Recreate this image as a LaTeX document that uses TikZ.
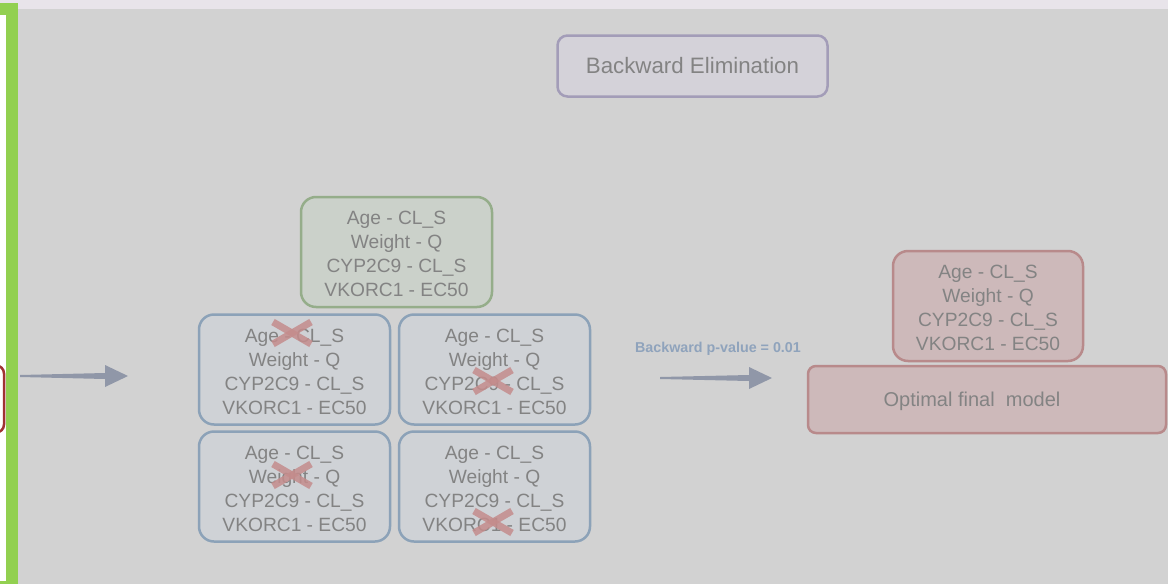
\documentclass[tikz,border=0pt]{standalone}
\usepackage{fontspec}
\setmainfont{Liberation Sans}
\usetikzlibrary{calc}
\definecolor{bgc}{HTML}{D2D2D2}
\definecolor{topc}{HTML}{E8E4EA}
\definecolor{greenbar}{HTML}{92D050}
\definecolor{txtc}{HTML}{838383}
\definecolor{lblc}{HTML}{8FA3BC}
\definecolor{arrc}{HTML}{9097A8}
\definecolor{titfill}{HTML}{D4D2D9}
\definecolor{titdraw}{HTML}{A39DB8}
\definecolor{gfill}{HTML}{CBD1CA}
\definecolor{gdraw}{HTML}{95AD8A}
\definecolor{bfill}{HTML}{CFD2D6}
\definecolor{bdraw}{HTML}{8CA2B8}
\definecolor{rfill}{HTML}{CDB9BA}
\definecolor{rdraw}{HTML}{B88A8B}
\definecolor{xc}{HTML}{C48C8C}
\definecolor{darkred}{HTML}{A03232}
\newcommand{\covlines}{\rule{0pt}{17.5pt}Age - CL\_S\\Weight - Q\\CYP2C9 - CL\_S\\VKORC1 - EC50}
\tikzset{
  covbox/.style={rounded corners=15pt, line width=2.5pt, minimum width=191pt, minimum height=110pt,
    inner sep=0pt, align=center, text=txtc, font=\fontsize{19.2}{24}\selectfont},
  greenbox/.style={covbox, fill=gfill, draw=gdraw},
  bluebox/.style={covbox, fill=bfill, draw=bdraw},
  redbox/.style={covbox, fill=rfill, draw=rdraw},
  xmark/.style={draw=xc, line width=7pt, opacity=0.85},
  arrowfill/.style={fill=arrc},
}
\begin{document}
\begin{tikzpicture}[x=1pt,y=-1pt]
\useasboundingbox (0,0) rectangle (1168,584);
% backgrounds
\fill[bgc] (0,0) rectangle (1168,584);
\fill[topc] (0,0) rectangle (1168,9);
\fill[greenbar] (-10,3) rectangle (18,594);
\fill[white] (-10,15) rectangle (6,581);
% partial red box at left edge
\node[draw=darkred, line width=2.5pt, fill=white, rounded corners=8pt, minimum width=60pt, minimum height=67pt, inner sep=0pt] (prev) at (-26,399) {};
% title
\node[draw=titdraw, fill=titfill, line width=2.5pt, rounded corners=10pt, minimum width=270pt, minimum height=61pt, inner sep=0pt, text=txtc, font=\fontsize{22.3}{24}\selectfont] (title) at (692.5,66) {Backward Elimination};
% full model
\node[greenbox] (full) at (396.5,252) {\covlines};
% reduced models
\node[bluebox] (m1) at (294.5,369.5) {\covlines};
\node[bluebox] (m2) at (494.5,369.5) {\covlines};
\node[bluebox] (m3) at (294.5,486.5) {\covlines};
\node[bluebox] (m4) at (494.5,486.5) {\covlines};
% cross marks
\coordinate (x1) at (292,333);
\coordinate (x2) at (493,381);
\coordinate (x3) at (292,475);
\coordinate (x4) at (493,522);
\foreach \c in {x1,x2,x3,x4}{
  \draw[xmark] ($(\c)+(-19,-11)$) -- ($(\c)+(19,11)$);
  \draw[xmark] ($(\c)+(-19,11)$) -- ($(\c)+(19,-11)$);
}
% final model
\node[redbox, minimum width=190pt] (sel) at (988,306) {\covlines};
\node[fill=rfill, draw=rdraw, line width=2.5pt, rounded corners=8pt, minimum width=358pt, minimum height=67pt, inner sep=0pt] (final) at (987,399.5) {};
\node[text=txtc, font=\fontsize{20}{24}\selectfont, inner sep=0pt] (finaltxt) at (972,401) {Optimal final\ \ model};
% arrows
\coordinate (a1s) at (20,376);
\coordinate (a1e) at (128,376);
\fill[arrowfill] ($(a1s)+(0,-1)$) -- ($(a1e)+(-23,-3)$) -- ($(a1e)+(-23,-11)$) -- (a1e)
  -- ($(a1e)+(-23,11)$) -- ($(a1e)+(-23,3)$) -- ($(a1s)+(0,1)$) -- cycle;
\coordinate (a2s) at (660,378);
\coordinate (a2e) at (772,378);
\fill[arrowfill] ($(a2s)+(0,-1)$) -- ($(a2e)+(-23,-3)$) -- ($(a2e)+(-23,-11)$) -- (a2e)
  -- ($(a2e)+(-23,11)$) -- ($(a2e)+(-23,3)$) -- ($(a2s)+(0,1)$) -- cycle;
\node[text=lblc, font=\fontsize{14.3}{16}\bfseries\selectfont, inner sep=0pt] (plabel) at (718,349) {Backward p-value = 0.01};
\end{tikzpicture}
\end{document}
